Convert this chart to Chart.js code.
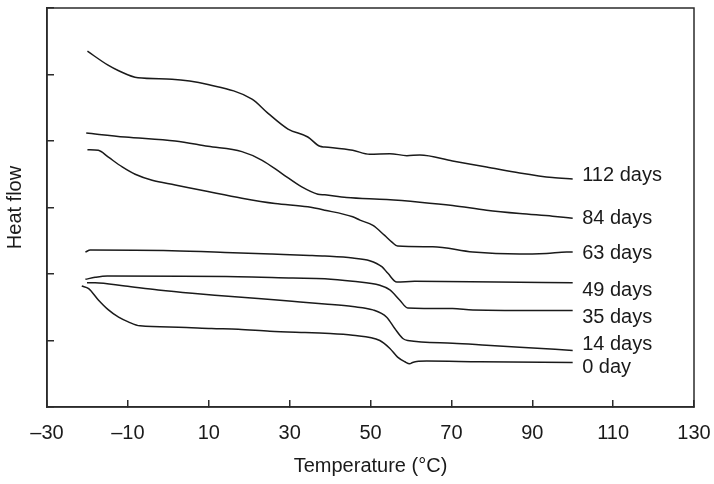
<!DOCTYPE html>
<html>
<head>
<meta charset="utf-8">
<script src="https://cdn.jsdelivr.net/npm/chart.js@4.4.1/dist/chart.umd.min.js"></script>
<style>
  body { margin: 0; background: #fff; }
  #wrap { width: 714px; height: 484px; }
</style>
</head>
<body>
<div id="wrap"><canvas id="my_canvas"></canvas></div>
<script>
// x ticks and y ticks (y has no labels)
const xTicks = [-30, -10, 10, 30, 50, 70, 90, 110, 130];
const yTicks = [0, 1, 2, 3, 4, 5, 6];

const seriesNames = ['112 days', '84 days', '63 days', '49 days', '35 days', '14 days', '0 day'];

// temperature (°C) / heat flow (arbitrary units)
const t112 = [-20, -14.9, -12.4, -7.5, 0.9, 9.8, 20.7, 24.6, 29.6, 34.5, 37.5, 38.7, 45.6, 49.8, 54.8, 59.0, 62.2, 70.3, 78.7, 86.9, 95, 100];
const hf112 = [5.35, 5.14, 5.06, 4.95, 4.93, 4.85, 4.63, 4.42, 4.18, 4.06, 3.92, 3.91, 3.86, 3.80, 3.81, 3.78, 3.79, 3.70, 3.61, 3.52, 3.45, 3.43];

const t84 = [-20.3, -10.7, 1.7, 9.8, 18.2, 23.2, 28.1, 33.0, 37.0, 38.7, 44.1, 54.0, 62.2, 70.3, 78.7, 86.9, 95, 100];
const hf84 = [4.12, 4.06, 4.00, 3.92, 3.84, 3.71, 3.51, 3.31, 3.20, 3.19, 3.15, 3.12, 3.08, 3.03, 2.96, 2.91, 2.87, 2.84];

const t63 = [-20, -17.3, -14.9, -11.4, -8.2, -4.0, 1.7, 9.8, 18.2, 26.4, 34.5, 38.7, 45.6, 47.4, 50.6, 53.5, 55.3, 56.7, 65.4, 75.3, 86.9, 93.5, 98.5, 100];
const hf63 = [3.87, 3.86, 3.76, 3.61, 3.50, 3.41, 3.34, 3.24, 3.14, 3.06, 3.01, 2.96, 2.86, 2.81, 2.73, 2.58, 2.48, 2.42, 2.41, 2.33, 2.30, 2.31, 2.33, 2.33];

const t49 = [-20.5, -19.3, 0.9, 16.0, 25.6, 35.0, 38.7, 45.6, 49.8, 52.8, 54.3, 56.5, 60.9, 81.2, 100];
const hf49 = [2.33, 2.36, 2.35, 2.32, 2.30, 2.28, 2.27, 2.24, 2.20, 2.11, 2.01, 1.88, 1.89, 1.88, 1.87];

const t35 = [-20.5, -18.1, -15.1, 17.2, 30.8, 38.7, 45.6, 52.3, 54.8, 57.2, 59.2, 70.3, 75.3, 100];
const hf35 = [1.92, 1.95, 1.97, 1.96, 1.94, 1.93, 1.89, 1.83, 1.76, 1.61, 1.49, 1.48, 1.46, 1.45];

const t14 = [-20.1, -18.1, -10.7, -2.5, 5.9, 14.0, 22.2, 30.6, 38.7, 45.6, 50.6, 54.0, 56.0, 58.0, 59.2, 70.3, 78.7, 86.9, 100];
const hf14 = [1.87, 1.87, 1.82, 1.76, 1.71, 1.67, 1.63, 1.59, 1.55, 1.51, 1.46, 1.35, 1.18, 1.03, 1.00, 0.96, 0.93, 0.90, 0.85];

const t0 = [-21.4, -19.7, -17.3, -14.8, -12.3, -9.9, -7.0, 2.5, 10.7, 17.3, 25.1, 33.8, 38.7, 45.6, 52.3, 54.8, 56.7, 58.5, 59.7, 60.4, 63.9, 77.0, 100];
const hf0 = [1.82, 1.78, 1.61, 1.46, 1.35, 1.28, 1.22, 1.20, 1.18, 1.17, 1.14, 1.12, 1.11, 1.08, 1.00, 0.88, 0.75, 0.68, 0.65, 0.67, 0.69, 0.68, 0.67];

const allTemps = [t112, t84, t63, t49, t35, t14, t0];
const allFlows = [hf112, hf84, hf63, hf49, hf35, hf14, hf0];

// vertical nudge of each end label relative to the curve end (px)
const labelDy = [-3, 0, 1.5, 7.5, 7, -6, 5];

const FONT = 'Liberation Sans, Arial, Helvetica, sans-serif';
const FSIZE = 20;
const INK = '#1a1a1a';
const AXIS = '#2b2b2b';

const datasets = allTemps.map((temps, i) => ({
    label: seriesNames[i],
    data: temps.map((t, j) => ({x: t, y: allFlows[i][j]})),
    borderColor: INK,
    borderWidth: 1.5,
    pointRadius: 0,
    cubicInterpolationMode: 'monotone',
    fill: false
}));

const endLabels = {
    id: 'endLabels',
    afterDatasetsDraw(chart){
        const ctx = chart.ctx;
        ctx.save();
        ctx.font = FSIZE + 'px ' + FONT;
        ctx.fillStyle = INK;
        ctx.textAlign = 'left';
        ctx.textBaseline = 'middle';
        chart.data.datasets.forEach((ds, i) => {
            const pts = chart.getDatasetMeta(i).data;
            const last = pts[pts.length - 1];
            ctx.fillText(ds.label, last.x + 9.5, last.y + labelDy[i]);
        });
        ctx.restore();
    }
};

const frame = {
    id: 'frame',
    afterDraw(chart){
        const a = chart.chartArea;
        const ctx = chart.ctx;
        ctx.save();
        ctx.strokeStyle = AXIS;
        ctx.lineWidth = 1.5;
        ctx.strokeRect(a.left, a.top, a.right - a.left, a.bottom - a.top);
        ctx.restore();
    }
};

new Chart(document.getElementById('my_canvas'), {
    type: 'line',
    data: { datasets: datasets },
    options: {
        responsive: true,
        maintainAspectRatio: false,
        animation: false,
        layout: { padding: { top: 8, right: 20, left: 0, bottom: 0 } },
        plugins: {
            legend: { display: false },
            tooltip: { enabled: false }
        },
        scales: {
            x: {
                type: 'linear',
                min: -30,
                max: 130,
                afterBuildTicks: s => { s.ticks = xTicks.map(v => ({value: v})); },
                afterFit: s => { s.height = 77; s.paddingLeft = 0; s.paddingRight = 0; },
                ticks: {
                    autoSkip: false,
                    maxRotation: 0,
                    padding: 21,
                    color: INK,
                    font: { family: FONT, size: FSIZE },
                    callback: v => String(v).replace('-', '\u2013')
                },
                grid: { drawOnChartArea: false, tickLength: -7, color: AXIS, lineWidth: 1.5 },
                border: { color: AXIS, width: 1.5 },
                title: {
                    display: true,
                    text: 'Temperature (°C)',
                    color: INK,
                    font: { family: FONT, size: FSIZE },
                    padding: { top: 0, bottom: 6 }
                }
            },
            y: {
                min: 0,
                max: 6,
                afterBuildTicks: s => { s.ticks = yTicks.map(v => ({value: v})); },
                afterFit: s => { s.width = 47; s.paddingTop = 0; s.paddingBottom = 0; },
                ticks: { display: false },
                grid: { drawOnChartArea: false, tickLength: -7, color: AXIS, lineWidth: 1.5 },
                border: { color: AXIS, width: 1.5 },
                title: {
                    display: true,
                    text: 'Heat flow',
                    color: INK,
                    font: { family: FONT, size: FSIZE },
                    padding: { top: 3, bottom: 0 }
                }
            }
        }
    },
    plugins: [endLabels, frame]
});
</script>
</body>
</html>
